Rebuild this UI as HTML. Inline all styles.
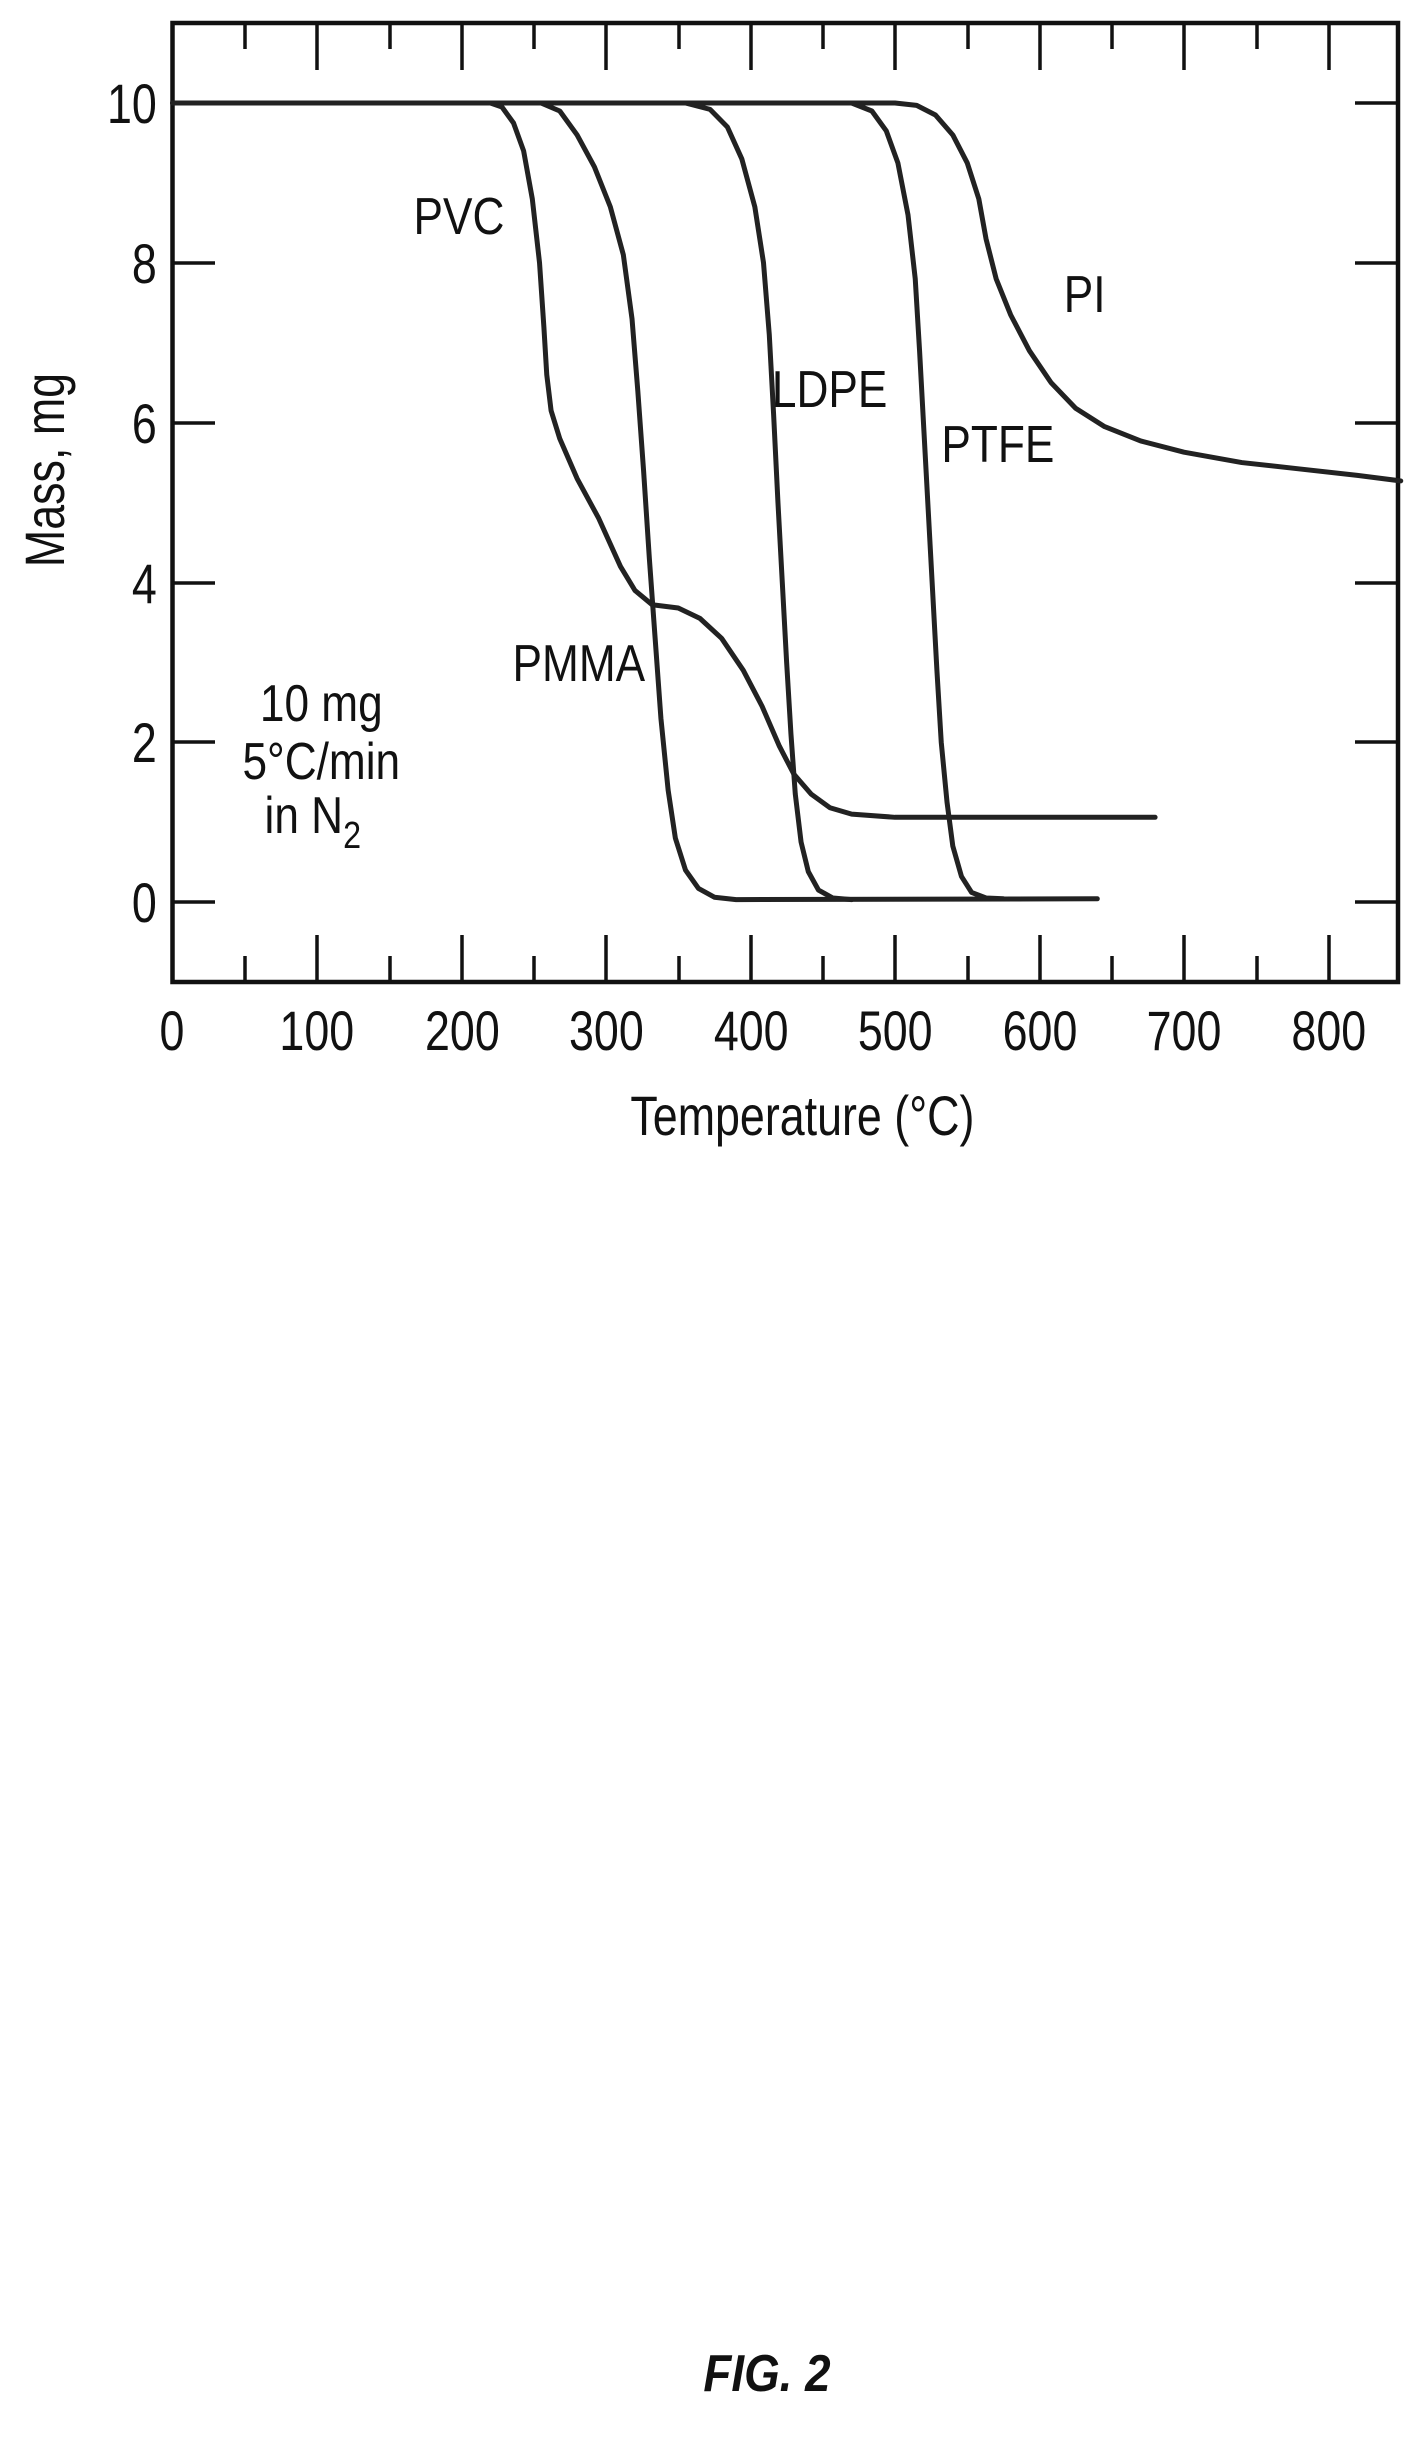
<!DOCTYPE html>
<html><head><meta charset="utf-8"><style>
html,body{margin:0;padding:0;background:#fff;}
svg{display:block;}
text{font-family:"Liberation Sans",sans-serif;fill:#111;}
</style></head><body>
<svg width="1422" height="2460" viewBox="0 0 1422 2460" xmlns="http://www.w3.org/2000/svg">
<rect x="0" y="0" width="1422" height="2460" fill="#fff"/>
<rect x="172.5" y="23" width="1225.5" height="959" fill="none" stroke="#111" stroke-width="4.5"/>
<g stroke="#111" stroke-width="3.5">
<path d="M317 982v-47M462 982v-47M606 982v-47M751 982v-47M895 982v-47M1040 982v-47M1184 982v-47M1329 982v-47"/>
<path d="M317 23v47M462 23v47M606 23v47M751 23v47M895 23v47M1040 23v47M1184 23v47M1329 23v47"/>
<path d="M245 982v-26M390 982v-26M534 982v-26M679 982v-26M823 982v-26M968 982v-26M1112 982v-26M1257 982v-26"/>
<path d="M245 23v26M390 23v26M534 23v26M679 23v26M823 23v26M968 23v26M1112 23v26M1257 23v26"/>
<path d="M172 902h43M172 742h43M172 583h43M172 423h43M172 263h43M172 103h43"/>
<path d="M1398 902h-43M1398 742h-43M1398 583h-43M1398 423h-43M1398 263h-43M1398 103h-43"/>
</g>
<g transform="matrix(1.445,0,0,-79.9,172.5,902)" fill="none" stroke="#222" stroke-width="5" stroke-linejoin="round" stroke-linecap="round">
<polyline vector-effect="non-scaling-stroke" points="0,10 220,10 228,9.95 236,9.75 243,9.4 249,8.8 254,8 257,7.2 259,6.6 262,6.15 268,5.8 280,5.3 295,4.8 310,4.2 320,3.9 332,3.72 350,3.68 365,3.55 380,3.3 395,2.9 408,2.45 420,1.95 430,1.6 442,1.35 455,1.18 470,1.1 500,1.06 680,1.06"/>
<polyline vector-effect="non-scaling-stroke" points="0,10 255,10 268,9.9 280,9.6 292,9.2 303,8.7 312,8.1 318,7.3 322,6.4 326,5.4 330,4.3 334,3.3 338,2.3 343,1.4 348,0.8 355,0.4 364,0.17 375,0.06 390,0.03 640,0.04"/>
<polyline vector-effect="non-scaling-stroke" points="0,10 355,10 372,9.92 384,9.7 394,9.3 403,8.7 409,8 413,7.1 416,6.1 419,5 422,4 425,3 428,2.1 431,1.35 435,0.75 440,0.38 447,0.15 457,0.05 470,0.03"/>
<polyline vector-effect="non-scaling-stroke" points="0,10 470,10 484,9.9 494,9.65 502,9.25 509,8.6 514,7.8 517,6.9 520,5.9 523,4.9 526,3.9 529,2.9 532,2 536,1.25 540,0.7 546,0.32 553,0.12 563,0.05 575,0.04"/>
<polyline vector-effect="non-scaling-stroke" points="0,10 500,10 515,9.97 528,9.85 540,9.6 550,9.25 558,8.8 563,8.3 570,7.8 580,7.35 593,6.9 608,6.5 625,6.18 645,5.95 670,5.77 700,5.63 740,5.5 780,5.42 820,5.34 850,5.27"/>
</g>
<g font-size="56" text-anchor="middle">
<g transform="scale(0.8,1)">
<text x="215" y="1050">0</text>
<text x="396" y="1050">100</text>
<text x="578" y="1050">200</text>
<text x="758" y="1050">300</text>
<text x="939" y="1050">400</text>
<text x="1119" y="1050">500</text>
<text x="1300" y="1050">600</text>
<text x="1480" y="1050">700</text>
<text x="1661" y="1050">800</text>
<text x="1003" y="1135">Temperature (°C)</text>
</g>
<g transform="scale(0.8,1)" text-anchor="end">
<text x="196" y="922">0</text>
<text x="196" y="762">2</text>
<text x="196" y="603">4</text>
<text x="196" y="443">6</text>
<text x="196" y="283">8</text>
<text x="196" y="123">10</text>
</g>
<text transform="translate(64,470) rotate(-90) scale(0.8,1)" x="0" y="0">Mass, mg</text>
<g transform="scale(0.85,1)" font-size="52">
<text x="540" y="234">PVC</text>
<text x="1276" y="312">PI</text>
<text x="976" y="407">LDPE</text>
<text x="1174" y="462">PTFE</text>
<text x="681" y="681">PMMA</text>
<text x="378" y="721">10 mg</text>
<text x="378" y="779">5°C/min</text>
<text x="368" y="833">in N<tspan font-size="38" dy="15">2</tspan></text>
</g>
<text x="767" y="2391" font-size="52" font-weight="bold" font-style="italic" transform="translate(767,0) scale(0.88,1) translate(-767,0)">FIG. 2</text>
</g>
</svg>
</body></html>
